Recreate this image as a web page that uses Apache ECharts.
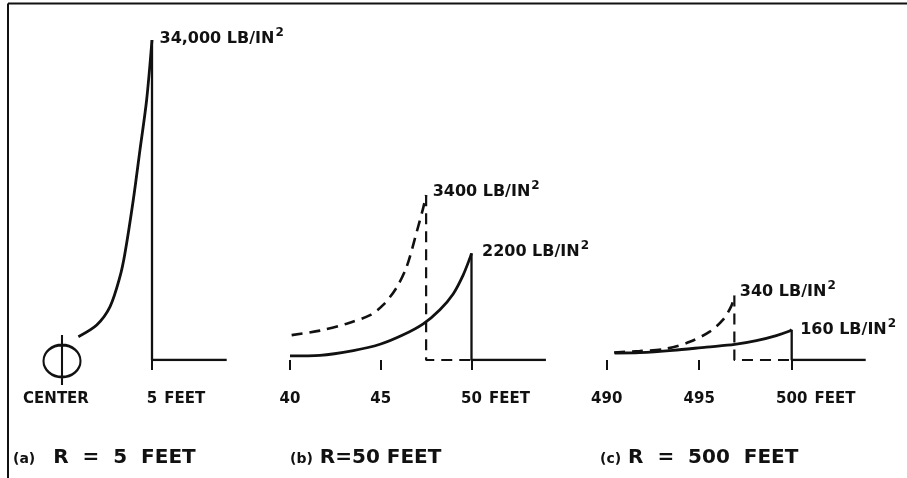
<!DOCTYPE html>
<html>
<head>
<meta charset="utf-8">
<script src="https://cdn.jsdelivr.net/npm/echarts@6/dist/echarts.min.js"></script>
<style>
html,body{margin:0;padding:0;background:#fff;}
#chart{width:907px;height:478px;}
</style>
</head>
<body>
<div id="chart"></div>
<script>
// ---------- DATA ----------
// Panel (a): R = 5 feet (distance from center in feet, pressure in lb/in^2)
const feetA = [0.91, 1.93, 2.67, 3.22, 3.5, 3.96, 4.33, 4.70];
const psiA  = [2480, 3720, 5670, 8850, 11370, 17000, 22300, 27600];
const peakFeetA = 5, peakPsiA = 34000, endFeetA = 9.15;

// Panel (b): R = 50 feet
const feetBDashed = [40.09, 41.65, 43.12, 44.41, 45.15, 45.88, 46.43, 46.98, 47.34];
const psiBDashed  = [513, 606, 749, 927, 1141, 1498, 1926, 2639, 3139];
const peakFeetBDashed = 47.5, peakPsiBDashed = 3400;
const feetBSolid = [40.0, 41.65, 43.49, 44.96, 46.24, 47.34, 48.26, 48.99, 49.54, 49.92];
const psiBSolid  = [84, 97, 195, 325, 520, 746, 1038, 1363, 1752, 2109];
const peakFeetBSolid = 50, peakPsiBSolid = 2200, endFeetB = 54.1;

// Panel (c): R = 500 feet
const feetCDashed = [490.4, 491.78, 493.23, 494.49, 495.57, 496.29, 496.74];
const psiCDashed  = [40, 47, 60, 96, 150, 213, 286];
const peakFeetCDashed = 496.9, peakPsiCDashed = 340;
const feetCSolid = [490.43, 491.78, 493.58, 495.39, 496.92, 498.09, 499.17, 499.89];
const psiCSolid  = [37, 39, 51, 68, 82, 102, 129, 153];
const peakFeetCSolid = 500, peakPsiCSolid = 160, endFeetC = 504;

// Tick labels
const ticksA = [0, 5];
const tickLabelsA = ['CENTER', '5 FEET'];
const ticksB = [40, 45, 50];
const tickLabelsB = ['40', '45', '50 FEET'];
const ticksC = [490, 495, 500];
const tickLabelsC = ['490', '495', '500 FEET'];

const peakLabels = ['34,000 LB/IN', '3400 LB/IN', '2200 LB/IN', '340 LB/IN', '160 LB/IN'];
const panelTags = ['(a)', '(b)', '(c)'];
const panelTitles = ['R  =  5  FEET', 'R=50 FEET', 'R  =  500  FEET'];

// ---------- CHART ----------
const FONT = '"DejaVu Sans", sans-serif';
const INK = '#111';
const chart = echarts.init(document.getElementById('chart'), null, {renderer: 'canvas'});

function zip(xs, ys) { return xs.map((x, i) => [x, ys[i]]); }

const grids = [
  {left: 62, top: 40, width: 180, height: 320},
  {left: 290, top: 40, width: 272.25, height: 320},
  {left: 606.7, top: 40, width: 277.5, height: 320}
];
const xRanges = [[0, 10], [40, 55], [490, 505]];
const yMax = [34000, 6600, 1690];
const tickSets = [ticksA, ticksB, ticksC];
const tickLabelSets = [tickLabelsA, tickLabelsB, tickLabelsC];
const tickMarkSets = [[5], ticksB, ticksC];

function fmtTick(panel) {
  return function (val) {
    const idx = tickSets[panel].indexOf(Math.round(val));
    const txt = idx >= 0 ? tickLabelSets[panel][idx] : '';
    if (txt.indexOf(' FEET') > 0) {
      const num = txt.replace(' FEET', '');
      return '{pad|}{n|' + num + '}{u| FEET}';
    }
    if (txt === 'CENTER') return '{c|CENTER}';
    return '{n|' + txt + '}';
  };
}
const tickRich = {
  pad: {width: 50},
  n: {fontFamily: FONT, fontWeight: 'bold', fontSize: 15, color: INK},
  u: {fontFamily: FONT, fontWeight: 'bold', fontSize: 15, color: INK, width: 50, align: 'left'},
  c: {fontFamily: FONT, fontWeight: 'bold', fontSize: 15, color: INK, padding: [0, 12, 0, 0]}
};

const xAxes = xRanges.map((r, i) => ({
  type: 'value', gridIndex: i, min: r[0], max: r[1],
  offset: 10,
  axisLine: {show: false},
  splitLine: {show: false},
  axisTick: {show: true, customValues: tickMarkSets[i], length: 10, lineStyle: {color: INK, width: 2}},
  axisLabel: {show: true, customValues: tickSets[i], margin: 22, formatter: fmtTick(i), rich: tickRich}
}));
const yAxes = yMax.map((m, i) => ({type: 'value', gridIndex: i, min: 0, max: m, show: false}));

const solidStyle = {color: INK, width: 2.8};
const dashedStyle = {color: INK, width: 2.6, type: [11, 7]};

function curve(i, xs, ys, px, py, dashed) {
  return {
    type: 'line', xAxisIndex: i, yAxisIndex: i, data: zip(xs, ys).concat([[px, py]]),
    smooth: 0.3, showSymbol: false, symbol: 'none',
    lineStyle: dashed ? dashedStyle : solidStyle, silent: true, z: 3
  };
}
function drop(i, px, py, endX, dashed) {
  return {
    type: 'line', xAxisIndex: i, yAxisIndex: i,
    data: [[px, py], [px, 0], [endX, 0]],
    showSymbol: false, symbol: 'none', smooth: false,
    lineStyle: dashed ? {color: INK, width: 2.2, type: [11, 7]} : {color: INK, width: 2.3},
    silent: true, z: 3
  };
}
const labelRich = {
  v: {fontFamily: FONT, fontWeight: 'bold', fontSize: 16, color: INK, lineHeight: 20},
  s: {fontFamily: FONT, fontWeight: 'bold', fontSize: 12, color: INK, verticalAlign: 'top', padding: [0, 0, 12, 1]}
};
function peakLabel(i, px, py, text, dist, off) {
  return {
    type: 'scatter', xAxisIndex: i, yAxisIndex: i, data: [[px, py]],
    symbolSize: 1, itemStyle: {color: 'rgba(0,0,0,0)', opacity: 1}, silent: true, z: 5,
    label: {show: true, position: 'right', distance: dist, offset: off, color: INK,
      formatter: '{v|' + text + '}{s|2}', rich: labelRich}
  };
}

const centerSymbol = 'path://M18.5,0 L18.5,50 M0,26 A18.5,16 0 1,1 37,26 A18.5,16 0 1,1 0,26 Z';

const series = [
  curve(0, feetA, psiA, peakFeetA, peakPsiA, false),
  drop(0, peakFeetA, peakPsiA, endFeetA, false),
  peakLabel(0, peakFeetA, peakPsiA, peakLabels[0], 7, [0, -1]),
  {
    type: 'scatter', xAxisIndex: 0, yAxisIndex: 0, data: [[0, 0]],
    symbol: centerSymbol, symbolSize: [37, 50],
    itemStyle: {color: 'rgba(0,0,0,0)', borderColor: INK, borderWidth: 2.4, opacity: 1}, silent: true
  },
  curve(1, feetBDashed, psiBDashed, peakFeetBDashed, peakPsiBDashed, true),
  drop(1, peakFeetBDashed, peakPsiBDashed, peakFeetBSolid, true),
  curve(1, feetBSolid, psiBSolid, peakFeetBSolid, peakPsiBSolid, false),
  drop(1, peakFeetBSolid, peakPsiBSolid, endFeetB, false),
  peakLabel(1, peakFeetBDashed, peakPsiBDashed, peakLabels[1], 6, [0, -3]),
  peakLabel(1, peakFeetBSolid, peakPsiBSolid, peakLabels[2], 10, [0, -1]),
  curve(2, feetCDashed, psiCDashed, peakFeetCDashed, peakPsiCDashed, true),
  drop(2, peakFeetCDashed, peakPsiCDashed, peakFeetCSolid, true),
  curve(2, feetCSolid, psiCSolid, peakFeetCSolid, peakPsiCSolid, false),
  drop(2, peakFeetCSolid, peakPsiCSolid, endFeetC, false),
  peakLabel(2, peakFeetCDashed, peakPsiCDashed, peakLabels[3], 5, [0, -4]),
  peakLabel(2, peakFeetCSolid, peakPsiCSolid, peakLabels[4], 8, [0, 0])
];

const tagX = [13, 290, 600];
const graphic = [
  {type: 'line', shape: {x1: 8, y1: 3.5, x2: 907, y2: 3.5}, style: {stroke: INK, lineWidth: 2}, silent: true},
  {type: 'line', shape: {x1: 8, y1: 3.5, x2: 8, y2: 478}, style: {stroke: INK, lineWidth: 2}, silent: true}
].concat(panelTitles.map((t, i) => ({
  type: 'text', left: tagX[i], top: 448, silent: true,
  style: {
    text: '{p|' + panelTags[i] + '}{r|' + t + '}',
    rich: {
      p: {fontFamily: FONT, fontWeight: 'bold', fontSize: 14, fill: INK, padding: [3, i === 0 ? 18 : 7, 0, 0]},
      r: {fontFamily: FONT, fontWeight: 'bold', fontSize: 20, fill: INK}
    }
  }
})));

chart.setOption({
  animation: false,
  backgroundColor: '#fff',
  grid: grids,
  xAxis: xAxes,
  yAxis: yAxes,
  series: series,
  graphic: graphic
});
</script>
</body>
</html>
